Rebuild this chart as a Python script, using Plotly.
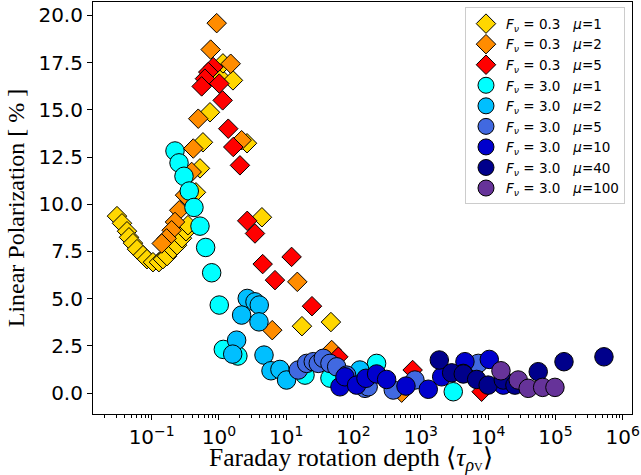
import numpy as np
import plotly.graph_objects as go

# Faraday rotation depth <tau_rho_V> and linear polarization [%] per model

# F_nu = 0.3 (diamonds)
tau_f03_mu1 = [0.0305, 0.0362, 0.0430, 0.0460, 0.0527, 0.0605, 0.0743, 0.0852, 0.1045,
               0.128, 0.147, 0.169, 0.207, 0.238, 0.282, 0.323, 0.346, 0.455, 0.522,
               0.578, 0.735, 1.035, 1.146, 1.614, 2.61, 4.35, 17.1, 46.1]
lp_f03_mu1 = [9.37, 8.99, 8.57, 8.25, 7.94, 7.62, 7.30, 7.09, 6.93,
              6.93, 7.09, 7.25, 7.62, 7.83, 8.20, 8.57, 8.89, 10.63, 11.90,
              13.28, 14.87, 16.72, 17.46, 16.56, 13.23, 9.31, 3.54, 3.76]

tau_f03_mu2 = [0.925, 0.753, 1.493, 0.492, 0.415, 0.393, 0.313, 0.257, 0.222, 0.198,
               0.167, 0.141, 2.17, 14.6, 6.19, 47.3, 519]
lp_f03_mu2 = [19.59, 18.19, 17.44, 14.53, 12.95, 11.71, 10.48, 9.68, 9.06, 8.62,
              8.19, 7.92, 13.39, 5.89, 3.33, 2.28, 0.02]

tau_f03_mu5 = [0.822, 0.693, 0.619, 0.553, 1.01, 1.135, 1.374, 1.63, 2.05, 2.63,
               3.43, 4.46, 6.80, 12.0, 24.1, 59.3, 755, 8000]
lp_f03_mu5 = [17.26, 17.00, 16.65, 16.24, 16.39, 15.50, 14.00, 13.03, 12.06, 9.12,
              8.45, 6.83, 5.98, 7.21, 4.60, 1.92, 1.22, 0.07]

# F_nu = 3.0 (circles)
tau_f30_mu1 = [0.222, 0.255, 0.302, 0.362, 0.425, 0.522, 0.634, 0.779, 1.01, 1.16,
               1.91, 19.0, 44.6, 132, 220, 3030]
lp_f30_mu1 = [12.82, 12.19, 11.48, 10.70, 9.83, 8.84, 7.71, 6.37, 4.66, 2.31,
              1.96, 0.95, 0.79, 1.13, 1.57, 0.07]

tau_f30_mu2 = [2.63, 3.43, 3.97, 2.17, 3.93, 1.83, 1.60, 4.67, 5.93, 8.05, 10.1, 124]
lp_f30_mu2 = [5.01, 4.83, 4.66, 4.13, 3.77, 2.80, 2.06, 2.01, 1.18, 1.25, 0.69, 1.22]

tau_f30_mu5 = [15.1, 20.1, 25.2, 29.9, 35.5, 44.6, 56.1, 78.9, 148, 165, 389, 817, 7130]
lp_f30_mu5 = [1.22, 1.57, 1.66, 1.57, 1.84, 1.57, 1.39, 0.95, 0.25, 0.33, 0.16, 0.69, 1.57]

tau_f30_mu10 = [62.8, 74.5, 111, 153, 220, 310, 601, 1290, 2040, 4520, 4270, 10400, 16800]
lp_f30_mu10 = [0.33, 0.86, 0.42, 0.78, 1.01, 0.72, 0.37, 0.20, 0.86, 1.66, 1.04, 1.78, 0.42]

tau_f30_mu40 = [1880, 2870, 4270, 6750, 10000, 16800, 55500, 134000, 526000, 25000]
lp_f30_mu40 = [1.75, 1.07, 1.01, 0.72, 0.42, 0.69, 1.13, 1.66, 1.92, 0.42]

tau_f30_mu100 = [15500, 28000, 39400, 64600, 98400]
lp_f30_mu100 = [1.18, 0.69, 0.25, 0.30, 0.30]

series = [
    ("0.3", "1", tau_f03_mu1, lp_f03_mu1, "diamond", "#FFD700"),
    ("0.3", "2", tau_f03_mu2, lp_f03_mu2, "diamond", "#FF8C00"),
    ("0.3", "5", tau_f03_mu5, lp_f03_mu5, "diamond", "#FF0000"),
    ("3.0", "1", tau_f30_mu1, lp_f30_mu1, "circle", "#00FFFF"),
    ("3.0", "2", tau_f30_mu2, lp_f30_mu2, "circle", "#00BFFF"),
    ("3.0", "5", tau_f30_mu5, lp_f30_mu5, "circle", "#4169E1"),
    ("3.0", "10", tau_f30_mu10, lp_f30_mu10, "circle", "#0000CD"),
    ("3.0", "40", tau_f30_mu40, lp_f30_mu40, "circle", "#00008B"),
    ("3.0", "100", tau_f30_mu100, lp_f30_mu100, "circle", "#663399"),
]

NB = "\u00a0"
fig = go.Figure()
for fnu, mu, tau, lp, sym, col in series:
    label = (f"<i>F</i><sub><i>ν</i></sub>{NB}={NB}{fnu}{NB*3}<i>μ</i>={mu}")
    fig.add_trace(go.Scatter(
        x=tau, y=lp, mode="markers", name=label,
        marker=dict(symbol=sym, size=15 if sym == "diamond" else 18.5,
                    color=col, line=dict(color="black", width=1)),
    ))

major = [10.0 ** k for k in range(-1, 7)]
major_text = [f"10<sup>{'−' if k < 0 else ''}{abs(k)}</sup>" for k in range(-1, 7)]
minor = [m * 10.0 ** k for k in range(-2, 7) for m in range(2, 10)]

fig.update_xaxes(
    type="log", range=[-1.872, 6.138],
    tickmode="array", tickvals=major, ticktext=major_text,
    ticks="outside", ticklen=5, tickwidth=1, tickcolor="black",
    minor=dict(tickmode="array", tickvals=minor, ticks="outside", ticklen=3,
               tickwidth=0.8, tickcolor="black", showgrid=False),
    showline=True, linecolor="black", linewidth=1.1, mirror=True,
    showgrid=False, zeroline=False,
    tickfont=dict(family="DejaVu Sans", size=20, color="black"),
)
fig.update_yaxes(
    range=[-1.11, 20.71], tickmode="linear", tick0=0, dtick=2.5, tickformat=".1f",
    ticks="outside", ticklen=5, tickwidth=1, tickcolor="black",
    showline=True, linecolor="black", linewidth=1.1, mirror=True,
    showgrid=False, zeroline=False,
    tickfont=dict(family="DejaVu Sans", size=20, color="black"),
    title=dict(text="Linear Polarization [ % ]",
               font=dict(family="Liberation Serif", size=24, color="black"),
               standoff=7),
)

# x-axis label placed as a paper annotation below the tick labels
fig.add_annotation(
    text=("Faraday rotation depth ⟨<i>τ</i><sub><i>ρ</i>"
          "<span style='font-size:12px'>V</span></sub>⟩"),
    xref="paper", yref="paper", x=0.478, y=-0.066, xanchor="center", yanchor="top",
    showarrow=False, font=dict(family="Liberation Serif", size=25.5, color="black"),
)

fig.update_layout(
    width=641, height=475, autosize=False,
    margin=dict(l=93, r=9, t=2, b=61),
    paper_bgcolor="white", plot_bgcolor="white",
    legend=dict(x=0.987, y=0.987, xanchor="right", yanchor="top",
                bgcolor="rgba(255,255,255,0.8)", bordercolor="#cccccc", borderwidth=1,
                font=dict(family="DejaVu Sans", size=13.5, color="black"),
                itemsizing="trace"),
    showlegend=True,
)

fig.write_html("out.html")
